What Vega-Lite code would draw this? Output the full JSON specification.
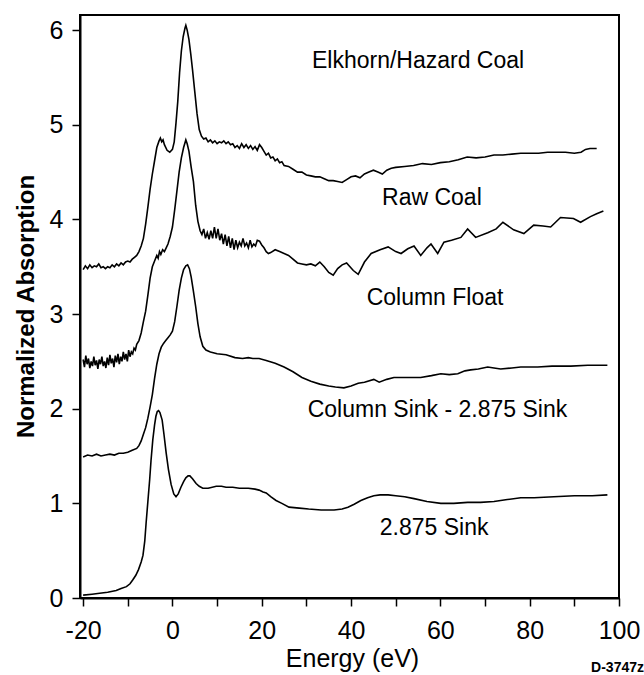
{
  "$schema": "https://vega.github.io/schema/vega-lite/v6.json",
  "width": 539,
  "height": 583,
  "autosize": {"type": "none"},
  "padding": {"left": 80, "top": 15, "right": 25, "bottom": 77},
  "config": {
    "view": {"stroke": "black", "strokeWidth": 2},
    "font": "Liberation Sans",
    "axis": {
      "grid": false,
      "domainColor": "black",
      "domainWidth": 2,
      "tickColor": "black",
      "tickWidth": 1.5,
      "labelColor": "black",
      "titleColor": "black",
      "labelFlush": false,
      "labelOverlap": false,
      "labelBound": false
    }
  },
  "datasets": {
    "curves": [
      {"series": "Raw Coal", "x": -20, "y": 3.47}, {"series": "Raw Coal", "x": -19.5, "y": 3.51}, {"series": "Raw Coal", "x": -19, "y": 3.48}, {"series": "Raw Coal", "x": -18.5, "y": 3.52}, {"series": "Raw Coal", "x": -18, "y": 3.49}, {"series": "Raw Coal", "x": -17.5, "y": 3.51}, {"series": "Raw Coal", "x": -17, "y": 3.5}, {"series": "Raw Coal", "x": -16.5, "y": 3.53}, {"series": "Raw Coal", "x": -16, "y": 3.49}, {"series": "Raw Coal", "x": -15.5, "y": 3.5}, {"series": "Raw Coal", "x": -15, "y": 3.48}, {"series": "Raw Coal", "x": -14.5, "y": 3.5}, {"series": "Raw Coal", "x": -14, "y": 3.49}, {"series": "Raw Coal", "x": -13.5, "y": 3.52}, {"series": "Raw Coal", "x": -13, "y": 3.5}, {"series": "Raw Coal", "x": -12.5, "y": 3.53}, {"series": "Raw Coal", "x": -12, "y": 3.51}, {"series": "Raw Coal", "x": -11.5, "y": 3.54}, {"series": "Raw Coal", "x": -11, "y": 3.52}, {"series": "Raw Coal", "x": -10.5, "y": 3.55}, {"series": "Raw Coal", "x": -10, "y": 3.56}, {"series": "Raw Coal", "x": -9.5, "y": 3.55}, {"series": "Raw Coal", "x": -9, "y": 3.58}, {"series": "Raw Coal", "x": -8.5, "y": 3.6}, {"series": "Raw Coal", "x": -8, "y": 3.62}, {"series": "Raw Coal", "x": -7.5, "y": 3.66}, {"series": "Raw Coal", "x": -7, "y": 3.72}, {"series": "Raw Coal", "x": -6.5, "y": 3.8}, {"series": "Raw Coal", "x": -6, "y": 3.95}, {"series": "Raw Coal", "x": -5.5, "y": 4.13}, {"series": "Raw Coal", "x": -5, "y": 4.32}, {"series": "Raw Coal", "x": -4.5, "y": 4.48}, {"series": "Raw Coal", "x": -4, "y": 4.62}, {"series": "Raw Coal", "x": -3.5, "y": 4.76}, {"series": "Raw Coal", "x": -3, "y": 4.83}, {"series": "Raw Coal", "x": -2.7, "y": 4.86}, {"series": "Raw Coal", "x": -2.4, "y": 4.82}, {"series": "Raw Coal", "x": -2.1, "y": 4.84}, {"series": "Raw Coal", "x": -1.8, "y": 4.79}, {"series": "Raw Coal", "x": -1.2, "y": 4.73}, {"series": "Raw Coal", "x": -0.6, "y": 4.71}, {"series": "Raw Coal", "x": 0, "y": 4.74}, {"series": "Raw Coal", "x": 0.4, "y": 4.82}, {"series": "Raw Coal", "x": 0.8, "y": 5.02}, {"series": "Raw Coal", "x": 1.2, "y": 5.25}, {"series": "Raw Coal", "x": 1.6, "y": 5.55}, {"series": "Raw Coal", "x": 2, "y": 5.78}, {"series": "Raw Coal", "x": 2.4, "y": 5.93}, {"series": "Raw Coal", "x": 2.8, "y": 6.02}, {"series": "Raw Coal", "x": 3.0, "y": 6.05}, {"series": "Raw Coal", "x": 3.3, "y": 6.0}, {"series": "Raw Coal", "x": 3.7, "y": 5.9}, {"series": "Raw Coal", "x": 4.1, "y": 5.75}, {"series": "Raw Coal", "x": 4.5, "y": 5.58}, {"series": "Raw Coal", "x": 5, "y": 5.35}, {"series": "Raw Coal", "x": 5.5, "y": 5.12}, {"series": "Raw Coal", "x": 6, "y": 4.95}, {"series": "Raw Coal", "x": 6.5, "y": 4.88}, {"series": "Raw Coal", "x": 7, "y": 4.85}, {"series": "Raw Coal", "x": 7.5, "y": 4.86}, {"series": "Raw Coal", "x": 8, "y": 4.82}, {"series": "Raw Coal", "x": 8.5, "y": 4.84}, {"series": "Raw Coal", "x": 9, "y": 4.81}, {"series": "Raw Coal", "x": 9.5, "y": 4.83}, {"series": "Raw Coal", "x": 10, "y": 4.8}, {"series": "Raw Coal", "x": 10.5, "y": 4.82}, {"series": "Raw Coal", "x": 11, "y": 4.81}, {"series": "Raw Coal", "x": 11.5, "y": 4.83}, {"series": "Raw Coal", "x": 12, "y": 4.8}, {"series": "Raw Coal", "x": 12.5, "y": 4.82}, {"series": "Raw Coal", "x": 13, "y": 4.79}, {"series": "Raw Coal", "x": 13.5, "y": 4.8}, {"series": "Raw Coal", "x": 14, "y": 4.76}, {"series": "Raw Coal", "x": 14.5, "y": 4.78}, {"series": "Raw Coal", "x": 15, "y": 4.75}, {"series": "Raw Coal", "x": 15.5, "y": 4.8}, {"series": "Raw Coal", "x": 16, "y": 4.76}, {"series": "Raw Coal", "x": 16.5, "y": 4.79}, {"series": "Raw Coal", "x": 17, "y": 4.75}, {"series": "Raw Coal", "x": 17.5, "y": 4.78}, {"series": "Raw Coal", "x": 18, "y": 4.74}, {"series": "Raw Coal", "x": 18.5, "y": 4.77}, {"series": "Raw Coal", "x": 19, "y": 4.73}, {"series": "Raw Coal", "x": 19.5, "y": 4.79}, {"series": "Raw Coal", "x": 20, "y": 4.76}, {"series": "Raw Coal", "x": 20.5, "y": 4.72}, {"series": "Raw Coal", "x": 21, "y": 4.68}, {"series": "Raw Coal", "x": 21.5, "y": 4.7}, {"series": "Raw Coal", "x": 22, "y": 4.65}, {"series": "Raw Coal", "x": 22.5, "y": 4.66}, {"series": "Raw Coal", "x": 23, "y": 4.62}, {"series": "Raw Coal", "x": 23.5, "y": 4.64}, {"series": "Raw Coal", "x": 24, "y": 4.6}, {"series": "Raw Coal", "x": 24.5, "y": 4.61}, {"series": "Raw Coal", "x": 25, "y": 4.57}, {"series": "Raw Coal", "x": 26, "y": 4.56}, {"series": "Raw Coal", "x": 27, "y": 4.53}, {"series": "Raw Coal", "x": 28, "y": 4.5}, {"series": "Raw Coal", "x": 29, "y": 4.5}, {"series": "Raw Coal", "x": 30, "y": 4.47}, {"series": "Raw Coal", "x": 31, "y": 4.46}, {"series": "Raw Coal", "x": 32, "y": 4.45}, {"series": "Raw Coal", "x": 33, "y": 4.45}, {"series": "Raw Coal", "x": 34, "y": 4.43}, {"series": "Raw Coal", "x": 35, "y": 4.41}, {"series": "Raw Coal", "x": 36, "y": 4.41}, {"series": "Raw Coal", "x": 37, "y": 4.4}, {"series": "Raw Coal", "x": 38, "y": 4.39}, {"series": "Raw Coal", "x": 39, "y": 4.42}, {"series": "Raw Coal", "x": 40, "y": 4.45}, {"series": "Raw Coal", "x": 41, "y": 4.46}, {"series": "Raw Coal", "x": 42, "y": 4.44}, {"series": "Raw Coal", "x": 43, "y": 4.48}, {"series": "Raw Coal", "x": 44, "y": 4.5}, {"series": "Raw Coal", "x": 45, "y": 4.52}, {"series": "Raw Coal", "x": 46, "y": 4.5}, {"series": "Raw Coal", "x": 47, "y": 4.48}, {"series": "Raw Coal", "x": 48, "y": 4.52}, {"series": "Raw Coal", "x": 49, "y": 4.54}, {"series": "Raw Coal", "x": 50, "y": 4.55}, {"series": "Raw Coal", "x": 52, "y": 4.56}, {"series": "Raw Coal", "x": 54, "y": 4.57}, {"series": "Raw Coal", "x": 56, "y": 4.59}, {"series": "Raw Coal", "x": 58, "y": 4.58}, {"series": "Raw Coal", "x": 60, "y": 4.6}, {"series": "Raw Coal", "x": 62, "y": 4.61}, {"series": "Raw Coal", "x": 64, "y": 4.63}, {"series": "Raw Coal", "x": 66, "y": 4.66}, {"series": "Raw Coal", "x": 68, "y": 4.65}, {"series": "Raw Coal", "x": 70, "y": 4.66}, {"series": "Raw Coal", "x": 72, "y": 4.68}, {"series": "Raw Coal", "x": 74, "y": 4.68}, {"series": "Raw Coal", "x": 76, "y": 4.69}, {"series": "Raw Coal", "x": 78, "y": 4.7}, {"series": "Raw Coal", "x": 80, "y": 4.7}, {"series": "Raw Coal", "x": 82, "y": 4.7}, {"series": "Raw Coal", "x": 84, "y": 4.71}, {"series": "Raw Coal", "x": 86, "y": 4.71}, {"series": "Raw Coal", "x": 88, "y": 4.71}, {"series": "Raw Coal", "x": 90, "y": 4.7}, {"series": "Raw Coal", "x": 91.5, "y": 4.71}, {"series": "Raw Coal", "x": 92.5, "y": 4.74}, {"series": "Raw Coal", "x": 93.5, "y": 4.75}, {"series": "Raw Coal", "x": 95, "y": 4.75},

      {"series": "Column Float", "x": -20, "y": 2.52}, {"series": "Column Float", "x": -19.7, "y": 2.44}, {"series": "Column Float", "x": -19.4, "y": 2.56}, {"series": "Column Float", "x": -19.1, "y": 2.47}, {"series": "Column Float", "x": -18.8, "y": 2.53}, {"series": "Column Float", "x": -18.5, "y": 2.43}, {"series": "Column Float", "x": -18.2, "y": 2.5}, {"series": "Column Float", "x": -17.9, "y": 2.45}, {"series": "Column Float", "x": -17.6, "y": 2.55}, {"series": "Column Float", "x": -17.3, "y": 2.46}, {"series": "Column Float", "x": -17, "y": 2.51}, {"series": "Column Float", "x": -16.7, "y": 2.42}, {"series": "Column Float", "x": -16.4, "y": 2.52}, {"series": "Column Float", "x": -16.1, "y": 2.47}, {"series": "Column Float", "x": -15.8, "y": 2.55}, {"series": "Column Float", "x": -15.5, "y": 2.45}, {"series": "Column Float", "x": -15.2, "y": 2.5}, {"series": "Column Float", "x": -14.9, "y": 2.43}, {"series": "Column Float", "x": -14.6, "y": 2.54}, {"series": "Column Float", "x": -14.3, "y": 2.46}, {"series": "Column Float", "x": -14, "y": 2.57}, {"series": "Column Float", "x": -13.7, "y": 2.48}, {"series": "Column Float", "x": -13.4, "y": 2.53}, {"series": "Column Float", "x": -13.1, "y": 2.44}, {"series": "Column Float", "x": -12.8, "y": 2.56}, {"series": "Column Float", "x": -12.5, "y": 2.49}, {"series": "Column Float", "x": -12.2, "y": 2.58}, {"series": "Column Float", "x": -11.9, "y": 2.47}, {"series": "Column Float", "x": -11.6, "y": 2.55}, {"series": "Column Float", "x": -11.3, "y": 2.5}, {"series": "Column Float", "x": -11, "y": 2.6}, {"series": "Column Float", "x": -10.7, "y": 2.52}, {"series": "Column Float", "x": -10.4, "y": 2.58}, {"series": "Column Float", "x": -10.1, "y": 2.5}, {"series": "Column Float", "x": -9.8, "y": 2.62}, {"series": "Column Float", "x": -9.5, "y": 2.55}, {"series": "Column Float", "x": -9.2, "y": 2.6}, {"series": "Column Float", "x": -8.9, "y": 2.58}, {"series": "Column Float", "x": -8.6, "y": 2.64}, {"series": "Column Float", "x": -8.3, "y": 2.62}, {"series": "Column Float", "x": -8, "y": 2.68}, {"series": "Column Float", "x": -7.5, "y": 2.72}, {"series": "Column Float", "x": -7, "y": 2.8}, {"series": "Column Float", "x": -6.5, "y": 2.92}, {"series": "Column Float", "x": -6, "y": 3.03}, {"series": "Column Float", "x": -5.5, "y": 3.2}, {"series": "Column Float", "x": -5, "y": 3.38}, {"series": "Column Float", "x": -4.5, "y": 3.5}, {"series": "Column Float", "x": -4, "y": 3.56}, {"series": "Column Float", "x": -3.5, "y": 3.62}, {"series": "Column Float", "x": -3.2, "y": 3.59}, {"series": "Column Float", "x": -2.9, "y": 3.66}, {"series": "Column Float", "x": -2.6, "y": 3.63}, {"series": "Column Float", "x": -2.2, "y": 3.68}, {"series": "Column Float", "x": -1.8, "y": 3.66}, {"series": "Column Float", "x": -1.4, "y": 3.7}, {"series": "Column Float", "x": -1, "y": 3.74}, {"series": "Column Float", "x": -0.5, "y": 3.82}, {"series": "Column Float", "x": 0, "y": 3.92}, {"series": "Column Float", "x": 0.5, "y": 4.1}, {"series": "Column Float", "x": 1, "y": 4.3}, {"series": "Column Float", "x": 1.5, "y": 4.5}, {"series": "Column Float", "x": 2, "y": 4.65}, {"series": "Column Float", "x": 2.5, "y": 4.76}, {"series": "Column Float", "x": 3.0, "y": 4.84}, {"series": "Column Float", "x": 3.3, "y": 4.8}, {"series": "Column Float", "x": 3.7, "y": 4.72}, {"series": "Column Float", "x": 4.2, "y": 4.55}, {"series": "Column Float", "x": 4.7, "y": 4.4}, {"series": "Column Float", "x": 5.2, "y": 4.15}, {"series": "Column Float", "x": 5.7, "y": 3.98}, {"series": "Column Float", "x": 6.2, "y": 3.88}, {"series": "Column Float", "x": 6.6, "y": 3.84}, {"series": "Column Float", "x": 7, "y": 3.9}, {"series": "Column Float", "x": 7.4, "y": 3.8}, {"series": "Column Float", "x": 7.8, "y": 3.86}, {"series": "Column Float", "x": 8.2, "y": 3.79}, {"series": "Column Float", "x": 8.6, "y": 3.88}, {"series": "Column Float", "x": 9, "y": 3.8}, {"series": "Column Float", "x": 9.4, "y": 3.92}, {"series": "Column Float", "x": 9.8, "y": 3.8}, {"series": "Column Float", "x": 10.2, "y": 3.9}, {"series": "Column Float", "x": 10.6, "y": 3.78}, {"series": "Column Float", "x": 11, "y": 3.85}, {"series": "Column Float", "x": 11.4, "y": 3.74}, {"series": "Column Float", "x": 11.8, "y": 3.84}, {"series": "Column Float", "x": 12.2, "y": 3.72}, {"series": "Column Float", "x": 12.6, "y": 3.82}, {"series": "Column Float", "x": 13, "y": 3.7}, {"series": "Column Float", "x": 13.4, "y": 3.8}, {"series": "Column Float", "x": 13.8, "y": 3.68}, {"series": "Column Float", "x": 14.2, "y": 3.78}, {"series": "Column Float", "x": 14.6, "y": 3.7}, {"series": "Column Float", "x": 15, "y": 3.76}, {"series": "Column Float", "x": 15.4, "y": 3.72}, {"series": "Column Float", "x": 15.8, "y": 3.8}, {"series": "Column Float", "x": 16.2, "y": 3.72}, {"series": "Column Float", "x": 16.6, "y": 3.75}, {"series": "Column Float", "x": 17, "y": 3.7}, {"series": "Column Float", "x": 17.4, "y": 3.78}, {"series": "Column Float", "x": 17.8, "y": 3.71}, {"series": "Column Float", "x": 18.2, "y": 3.74}, {"series": "Column Float", "x": 18.6, "y": 3.72}, {"series": "Column Float", "x": 19, "y": 3.78}, {"series": "Column Float", "x": 19.5, "y": 3.77}, {"series": "Column Float", "x": 20, "y": 3.73}, {"series": "Column Float", "x": 20.5, "y": 3.7}, {"series": "Column Float", "x": 21, "y": 3.66}, {"series": "Column Float", "x": 21.5, "y": 3.64}, {"series": "Column Float", "x": 22, "y": 3.65}, {"series": "Column Float", "x": 23, "y": 3.68}, {"series": "Column Float", "x": 24, "y": 3.66}, {"series": "Column Float", "x": 25, "y": 3.64}, {"series": "Column Float", "x": 26, "y": 3.62}, {"series": "Column Float", "x": 27, "y": 3.58}, {"series": "Column Float", "x": 28, "y": 3.54}, {"series": "Column Float", "x": 29, "y": 3.53}, {"series": "Column Float", "x": 30, "y": 3.52}, {"series": "Column Float", "x": 31, "y": 3.53}, {"series": "Column Float", "x": 32, "y": 3.51}, {"series": "Column Float", "x": 33, "y": 3.55}, {"series": "Column Float", "x": 34, "y": 3.5}, {"series": "Column Float", "x": 35, "y": 3.44}, {"series": "Column Float", "x": 36, "y": 3.41}, {"series": "Column Float", "x": 37, "y": 3.48}, {"series": "Column Float", "x": 38, "y": 3.52}, {"series": "Column Float", "x": 39, "y": 3.54}, {"series": "Column Float", "x": 40.5, "y": 3.46}, {"series": "Column Float", "x": 41.6, "y": 3.42}, {"series": "Column Float", "x": 43, "y": 3.55}, {"series": "Column Float", "x": 44.5, "y": 3.64}, {"series": "Column Float", "x": 46.5, "y": 3.68}, {"series": "Column Float", "x": 48.3, "y": 3.71}, {"series": "Column Float", "x": 50, "y": 3.66}, {"series": "Column Float", "x": 51.2, "y": 3.64}, {"series": "Column Float", "x": 52.7, "y": 3.69}, {"series": "Column Float", "x": 54.1, "y": 3.72}, {"series": "Column Float", "x": 55.6, "y": 3.62}, {"series": "Column Float", "x": 57, "y": 3.7}, {"series": "Column Float", "x": 57.9, "y": 3.74}, {"series": "Column Float", "x": 59.4, "y": 3.64}, {"series": "Column Float", "x": 60.8, "y": 3.76}, {"series": "Column Float", "x": 62.5, "y": 3.78}, {"series": "Column Float", "x": 64.6, "y": 3.81}, {"series": "Column Float", "x": 66.1, "y": 3.9}, {"series": "Column Float", "x": 67.9, "y": 3.81}, {"series": "Column Float", "x": 70.6, "y": 3.86}, {"series": "Column Float", "x": 72.5, "y": 3.9}, {"series": "Column Float", "x": 74, "y": 3.97}, {"series": "Column Float", "x": 76.4, "y": 3.89}, {"series": "Column Float", "x": 78.7, "y": 3.85}, {"series": "Column Float", "x": 80.9, "y": 3.94}, {"series": "Column Float", "x": 83, "y": 3.93}, {"series": "Column Float", "x": 84.7, "y": 3.92}, {"series": "Column Float", "x": 86.9, "y": 4.02}, {"series": "Column Float", "x": 89.8, "y": 4.01}, {"series": "Column Float", "x": 91.4, "y": 3.97}, {"series": "Column Float", "x": 93.6, "y": 4.03}, {"series": "Column Float", "x": 95, "y": 4.06}, {"series": "Column Float", "x": 96.5, "y": 4.09},

      {"series": "Column Sink", "x": -20, "y": 1.49}, {"series": "Column Sink", "x": -19, "y": 1.51}, {"series": "Column Sink", "x": -18, "y": 1.5}, {"series": "Column Sink", "x": -17, "y": 1.52}, {"series": "Column Sink", "x": -16, "y": 1.5}, {"series": "Column Sink", "x": -15, "y": 1.51}, {"series": "Column Sink", "x": -14, "y": 1.52}, {"series": "Column Sink", "x": -13, "y": 1.51}, {"series": "Column Sink", "x": -12, "y": 1.53}, {"series": "Column Sink", "x": -11, "y": 1.53}, {"series": "Column Sink", "x": -10, "y": 1.54}, {"series": "Column Sink", "x": -9, "y": 1.56}, {"series": "Column Sink", "x": -8, "y": 1.58}, {"series": "Column Sink", "x": -7.5, "y": 1.61}, {"series": "Column Sink", "x": -7, "y": 1.66}, {"series": "Column Sink", "x": -6.5, "y": 1.73}, {"series": "Column Sink", "x": -6, "y": 1.8}, {"series": "Column Sink", "x": -5.5, "y": 1.9}, {"series": "Column Sink", "x": -5, "y": 2.02}, {"series": "Column Sink", "x": -4.5, "y": 2.15}, {"series": "Column Sink", "x": -4, "y": 2.32}, {"series": "Column Sink", "x": -3.5, "y": 2.47}, {"series": "Column Sink", "x": -3, "y": 2.58}, {"series": "Column Sink", "x": -2.5, "y": 2.65}, {"series": "Column Sink", "x": -2, "y": 2.69}, {"series": "Column Sink", "x": -1.5, "y": 2.72}, {"series": "Column Sink", "x": -1, "y": 2.75}, {"series": "Column Sink", "x": -0.5, "y": 2.78}, {"series": "Column Sink", "x": 0, "y": 2.82}, {"series": "Column Sink", "x": 0.5, "y": 2.92}, {"series": "Column Sink", "x": 1, "y": 3.08}, {"series": "Column Sink", "x": 1.5, "y": 3.25}, {"series": "Column Sink", "x": 2, "y": 3.38}, {"series": "Column Sink", "x": 2.5, "y": 3.47}, {"series": "Column Sink", "x": 3, "y": 3.51}, {"series": "Column Sink", "x": 3.4, "y": 3.52}, {"series": "Column Sink", "x": 3.8, "y": 3.48}, {"series": "Column Sink", "x": 4.2, "y": 3.39}, {"series": "Column Sink", "x": 4.7, "y": 3.24}, {"series": "Column Sink", "x": 5.2, "y": 3.08}, {"series": "Column Sink", "x": 5.7, "y": 2.9}, {"series": "Column Sink", "x": 6.2, "y": 2.76}, {"series": "Column Sink", "x": 6.8, "y": 2.66}, {"series": "Column Sink", "x": 7.5, "y": 2.62}, {"series": "Column Sink", "x": 8.5, "y": 2.6}, {"series": "Column Sink", "x": 10, "y": 2.58}, {"series": "Column Sink", "x": 12, "y": 2.57}, {"series": "Column Sink", "x": 14, "y": 2.54}, {"series": "Column Sink", "x": 15.7, "y": 2.53}, {"series": "Column Sink", "x": 17, "y": 2.54}, {"series": "Column Sink", "x": 18, "y": 2.53}, {"series": "Column Sink", "x": 19.4, "y": 2.53}, {"series": "Column Sink", "x": 21, "y": 2.51}, {"series": "Column Sink", "x": 23, "y": 2.48}, {"series": "Column Sink", "x": 25, "y": 2.44}, {"series": "Column Sink", "x": 27, "y": 2.39}, {"series": "Column Sink", "x": 29, "y": 2.33}, {"series": "Column Sink", "x": 31, "y": 2.29}, {"series": "Column Sink", "x": 33, "y": 2.26}, {"series": "Column Sink", "x": 35, "y": 2.24}, {"series": "Column Sink", "x": 36.5, "y": 2.23}, {"series": "Column Sink", "x": 38.4, "y": 2.22}, {"series": "Column Sink", "x": 40, "y": 2.24}, {"series": "Column Sink", "x": 41.6, "y": 2.27}, {"series": "Column Sink", "x": 43, "y": 2.28}, {"series": "Column Sink", "x": 45.1, "y": 2.31}, {"series": "Column Sink", "x": 46.3, "y": 2.28}, {"series": "Column Sink", "x": 48, "y": 2.31}, {"series": "Column Sink", "x": 49.6, "y": 2.33}, {"series": "Column Sink", "x": 52, "y": 2.33}, {"series": "Column Sink", "x": 55.6, "y": 2.33}, {"series": "Column Sink", "x": 58, "y": 2.35}, {"series": "Column Sink", "x": 60.1, "y": 2.37}, {"series": "Column Sink", "x": 62, "y": 2.36}, {"series": "Column Sink", "x": 63.9, "y": 2.37}, {"series": "Column Sink", "x": 65.5, "y": 2.4}, {"series": "Column Sink", "x": 66.8, "y": 2.41}, {"series": "Column Sink", "x": 68.5, "y": 2.42}, {"series": "Column Sink", "x": 70.6, "y": 2.44}, {"series": "Column Sink", "x": 72, "y": 2.43}, {"series": "Column Sink", "x": 73.5, "y": 2.42}, {"series": "Column Sink", "x": 76, "y": 2.43}, {"series": "Column Sink", "x": 78, "y": 2.44}, {"series": "Column Sink", "x": 81.8, "y": 2.44}, {"series": "Column Sink", "x": 85, "y": 2.45}, {"series": "Column Sink", "x": 89.2, "y": 2.45}, {"series": "Column Sink", "x": 93, "y": 2.46}, {"series": "Column Sink", "x": 97.4, "y": 2.46},

      {"series": "2.875 Sink", "x": -20, "y": 0.03}, {"series": "2.875 Sink", "x": -18, "y": 0.04}, {"series": "2.875 Sink", "x": -16.3, "y": 0.05}, {"series": "2.875 Sink", "x": -14.5, "y": 0.06}, {"series": "2.875 Sink", "x": -12.6, "y": 0.08}, {"series": "2.875 Sink", "x": -11.5, "y": 0.1}, {"series": "2.875 Sink", "x": -10.3, "y": 0.12}, {"series": "2.875 Sink", "x": -9.5, "y": 0.15}, {"series": "2.875 Sink", "x": -8.9, "y": 0.19}, {"series": "2.875 Sink", "x": -8.2, "y": 0.24}, {"series": "2.875 Sink", "x": -7.6, "y": 0.3}, {"series": "2.875 Sink", "x": -7, "y": 0.38}, {"series": "2.875 Sink", "x": -6.6, "y": 0.45}, {"series": "2.875 Sink", "x": -6.2, "y": 0.6}, {"series": "2.875 Sink", "x": -5.9, "y": 0.79}, {"series": "2.875 Sink", "x": -5.5, "y": 1.02}, {"series": "2.875 Sink", "x": -5.1, "y": 1.25}, {"series": "2.875 Sink", "x": -4.8, "y": 1.45}, {"series": "2.875 Sink", "x": -4.4, "y": 1.67}, {"series": "2.875 Sink", "x": -4, "y": 1.83}, {"series": "2.875 Sink", "x": -3.7, "y": 1.92}, {"series": "2.875 Sink", "x": -3.4, "y": 1.97}, {"series": "2.875 Sink", "x": -3.1, "y": 1.98}, {"series": "2.875 Sink", "x": -2.8, "y": 1.96}, {"series": "2.875 Sink", "x": -2.3, "y": 1.88}, {"series": "2.875 Sink", "x": -1.9, "y": 1.73}, {"series": "2.875 Sink", "x": -1.4, "y": 1.53}, {"series": "2.875 Sink", "x": -0.9, "y": 1.36}, {"series": "2.875 Sink", "x": -0.3, "y": 1.2}, {"series": "2.875 Sink", "x": 0.3, "y": 1.1}, {"series": "2.875 Sink", "x": 0.8, "y": 1.07}, {"series": "2.875 Sink", "x": 1.3, "y": 1.1}, {"series": "2.875 Sink", "x": 1.9, "y": 1.17}, {"series": "2.875 Sink", "x": 2.5, "y": 1.23}, {"series": "2.875 Sink", "x": 3.0, "y": 1.27}, {"series": "2.875 Sink", "x": 3.5, "y": 1.29}, {"series": "2.875 Sink", "x": 3.9, "y": 1.29}, {"series": "2.875 Sink", "x": 4.5, "y": 1.26}, {"series": "2.875 Sink", "x": 5.3, "y": 1.21}, {"series": "2.875 Sink", "x": 6, "y": 1.18}, {"series": "2.875 Sink", "x": 6.8, "y": 1.16}, {"series": "2.875 Sink", "x": 8, "y": 1.16}, {"series": "2.875 Sink", "x": 9.8, "y": 1.18}, {"series": "2.875 Sink", "x": 11, "y": 1.18}, {"series": "2.875 Sink", "x": 12, "y": 1.17}, {"series": "2.875 Sink", "x": 13.5, "y": 1.17}, {"series": "2.875 Sink", "x": 15, "y": 1.16}, {"series": "2.875 Sink", "x": 17, "y": 1.16}, {"series": "2.875 Sink", "x": 18.5, "y": 1.15}, {"series": "2.875 Sink", "x": 19.4, "y": 1.14}, {"series": "2.875 Sink", "x": 20.3, "y": 1.12}, {"series": "2.875 Sink", "x": 21, "y": 1.11}, {"series": "2.875 Sink", "x": 22, "y": 1.07}, {"series": "2.875 Sink", "x": 23.2, "y": 1.03}, {"series": "2.875 Sink", "x": 24.5, "y": 1.0}, {"series": "2.875 Sink", "x": 26.1, "y": 0.96}, {"series": "2.875 Sink", "x": 28.4, "y": 0.95}, {"series": "2.875 Sink", "x": 30.5, "y": 0.94}, {"series": "2.875 Sink", "x": 33.3, "y": 0.93}, {"series": "2.875 Sink", "x": 36.2, "y": 0.93}, {"series": "2.875 Sink", "x": 38, "y": 0.94}, {"series": "2.875 Sink", "x": 39.3, "y": 0.96}, {"series": "2.875 Sink", "x": 40.7, "y": 0.99}, {"series": "2.875 Sink", "x": 42.2, "y": 1.03}, {"series": "2.875 Sink", "x": 43.7, "y": 1.06}, {"series": "2.875 Sink", "x": 45.1, "y": 1.08}, {"series": "2.875 Sink", "x": 46.5, "y": 1.09}, {"series": "2.875 Sink", "x": 48.3, "y": 1.09}, {"series": "2.875 Sink", "x": 50, "y": 1.08}, {"series": "2.875 Sink", "x": 52, "y": 1.07}, {"series": "2.875 Sink", "x": 54.1, "y": 1.05}, {"series": "2.875 Sink", "x": 57, "y": 1.02}, {"series": "2.875 Sink", "x": 60.1, "y": 1.0}, {"series": "2.875 Sink", "x": 63, "y": 1.0}, {"series": "2.875 Sink", "x": 66.1, "y": 1.01}, {"series": "2.875 Sink", "x": 69, "y": 1.01}, {"series": "2.875 Sink", "x": 72, "y": 1.02}, {"series": "2.875 Sink", "x": 75, "y": 1.04}, {"series": "2.875 Sink", "x": 78, "y": 1.06}, {"series": "2.875 Sink", "x": 81, "y": 1.06}, {"series": "2.875 Sink", "x": 85.4, "y": 1.07}, {"series": "2.875 Sink", "x": 90, "y": 1.08}, {"series": "2.875 Sink", "x": 94, "y": 1.08}, {"series": "2.875 Sink", "x": 97.4, "y": 1.09}
    ],
    "labels": [
      {"label": "Elkhorn/Hazard Coal", "x": 55.0, "y": 5.67},
      {"label": "Raw Coal", "x": 58.1, "y": 4.23},
      {"label": "Column Float", "x": 58.8, "y": 3.17},
      {"label": "Column Sink - 2.875 Sink", "x": 59.35, "y": 1.99},
      {"label": "2.875 Sink", "x": 58.6, "y": 0.74}
    ],
    "code": [
      {"label": "D-3747z", "x": 105.6, "y": -0.74}
    ],
    "frame": [
      {"side": "left", "x": -20.7, "x2": -20.7, "y": 0, "y2": 6.16},
      {"side": "right", "x": 100, "x2": 100, "y": 0, "y2": 6.16},
      {"side": "bottom", "x": -20.7, "x2": 100, "y": 0, "y2": 0},
      {"side": "top", "x": -20.7, "x2": 100, "y": 6.16, "y2": 6.16}
    ]
  },
  "layer": [
    {
      "data": {"name": "curves"},
      "mark": {"type": "line", "color": "black", "strokeWidth": 1.6},
      "encoding": {
        "x": {
          "field": "x", "type": "quantitative",
          "scale": {"domain": [-20.7, 100], "nice": false, "zero": false},
          "axis": {
            "domain": true,
            "values": [-20, -10, 0, 10, 20, 30, 40, 50, 60, 70, 80, 90, 100],
            "labelExpr": "datum.value % 20 === 0 ? '' + datum.value : ''",
            "title": "Energy (eV)",
            "tickSize": 8,
            "labelPadding": 12,
            "labelFontSize": 25,
            "titleFontSize": 25,
            "titleFontWeight": "normal",
            "titleX": 272,
            "titleY": 68,
            "titleAlign": "center",
            "titleBaseline": "alphabetic"
          }
        },
        "y": {
          "field": "y", "type": "quantitative",
          "scale": {"domain": [0, 6.16], "nice": false, "zero": false},
          "axis": {
            "domain": true,
            "values": [0, 1, 2, 3, 4, 5, 6],
            "labelExpr": "'' + datum.value",
            "title": "Normalized Absorption",
            "tickSize": 8,
            "labelPadding": 9,
            "labelFontSize": 25,
            "titleFontSize": 24,
            "titleFontWeight": "bold",
            "titleX": -54,
            "titleY": 291,
            "titleAlign": "center",
            "titleBaseline": "middle",
            "titleAngle": -90
          }
        },
        "detail": {"field": "series", "type": "nominal"},
        "order": {"field": "x", "type": "quantitative"}
      }
    },
    {
      "data": {"name": "labels"},
      "mark": {"type": "text", "fontSize": 23, "color": "black", "align": "center", "baseline": "middle"},
      "encoding": {
        "x": {"field": "x", "type": "quantitative"},
        "y": {"field": "y", "type": "quantitative"},
        "text": {"field": "label", "type": "nominal"}
      }
    },
    {
      "data": {"name": "code"},
      "mark": {"type": "text", "fontSize": 14, "fontWeight": "bold", "color": "black", "align": "right", "baseline": "middle"},
      "encoding": {
        "x": {"field": "x", "type": "quantitative"},
        "y": {"field": "y", "type": "quantitative"},
        "text": {"field": "label", "type": "nominal"}
      }
    },
    {
      "data": {"name": "frame"},
      "mark": {"type": "rule", "color": "black", "strokeWidth": 2, "strokeCap": "square"},
      "encoding": {
        "x": {"field": "x", "type": "quantitative"},
        "x2": {"field": "x2"},
        "y": {"field": "y", "type": "quantitative"},
        "y2": {"field": "y2"}
      }
    }
  ]
}
